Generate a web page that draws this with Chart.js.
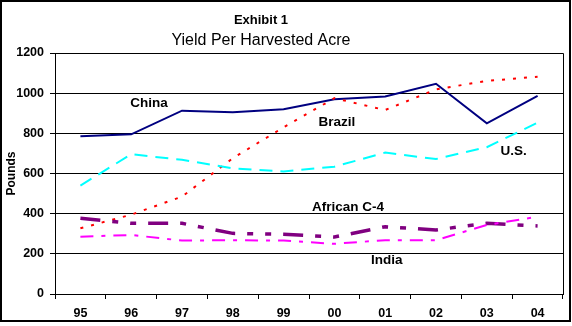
<!DOCTYPE html>
<html>
<head>
<meta charset="utf-8">
<title>Yield Per Harvested Acre</title>
<script src="https://cdn.jsdelivr.net/npm/chart.js@4/dist/chart.umd.min.js"></script>
<style>
  html, body { margin: 0; padding: 0; background: #fff; }
  #wrap { position: relative; width: 572px; height: 326px; }
</style>
</head>
<body>
<div id="wrap"><canvas id="c" width="572" height="326"></canvas></div>
<script>
// Crop years (categories)
const years = ['95', '96', '97', '98', '99', '00', '01', '02', '03', '04'];

// Yield per harvested acre, pounds
const china     = [785, 795, 913, 905, 920, 970, 983, 1047, 850, 987];
const brazil    = [327, 395, 485, 676, 830, 975, 916, 1019, 1061, 1082];
const us        = [540, 696, 668, 626, 610, 634, 704, 672, 731, 853];
const africanC4 = [377, 352, 352, 302, 297, 284, 335, 319, 352, 339];
const india     = [285, 294, 266, 268, 266, 250, 268, 268, 344, 385];

// Value axis
const yMin = 0, yMax = 1200, yStep = 200;

const FONT = '"Liberation Sans", Arial, Helvetica, sans-serif';

// Series name tags placed in data space (category index, pounds)
const seriesTags = [
  { text: 'China',       at: [1.35, 951] },
  { text: 'Brazil',      at: [5.05, 857] },
  { text: 'U.S.',        at: [8.53, 712] },
  { text: 'African C-4', at: [5.27, 433] },
  { text: 'India',       at: [6.03, 169] }
];

const framePlugin = {
  id: 'frame',
  beforeDraw(chart) {
    const ctx = chart.ctx;
    ctx.save();
    ctx.fillStyle = '#fff';
    ctx.fillRect(0, 0, chart.width, chart.height);
    ctx.restore();
  },
  afterDraw(chart) {
    const ctx = chart.ctx;
    const a = chart.chartArea;
    ctx.save();
    // outer border
    ctx.strokeStyle = '#000';
    ctx.lineWidth = 2;
    ctx.strokeRect(1, 1, 569, 320);
    // plot frame (top + right)
    ctx.lineWidth = 1;
    ctx.beginPath();
    ctx.moveTo(a.left, a.top + 0.5);
    ctx.lineTo(a.right + 0.5, a.top + 0.5);
    ctx.lineTo(a.right + 0.5, a.bottom);
    ctx.stroke();

    // titles
    ctx.fillStyle = '#000';
    ctx.textAlign = 'center';
    ctx.textBaseline = 'alphabetic';
    ctx.font = 'bold 13px ' + FONT;
    ctx.fillText('Exhibit 1', 261, 24);
    ctx.font = '16px ' + FONT;
    ctx.fillText('Yield Per Harvested Acre', 261, 45);

    // series tags
    const xs = chart.scales.x, ys = chart.scales.y;
    ctx.font = 'bold 13.5px ' + FONT;
    ctx.textBaseline = 'middle';
    seriesTags.forEach(t => {
      ctx.fillText(t.text, xs.getPixelForValue(t.at[0]), ys.getPixelForValue(t.at[1]));
    });
    ctx.restore();
  }
};

const line = (label, data, color, width, dash) => ({
  label, data,
  borderColor: color,
  backgroundColor: color,
  borderWidth: width,
  borderDash: dash,
  borderCapStyle: 'butt',
  pointRadius: 0,
  tension: 0,
  fill: false
});

new Chart(document.getElementById('c'), {
  type: 'line',
  data: {
    labels: years,
    datasets: [
      line('India', india, '#FF00FF', 2, [13, 8, 4, 8]),
      line('African C-4', africanC4, '#800080', 3.5, [20, 12, 6, 12, 6, 12]),
      line('U.S.', us, '#00FFFF', 2, [13, 8]),
      line('Brazil', brazil, '#FF0000', 2, [3, 8]),
      line('China', china, '#000080', 2, [])
    ]
  },
  options: {
    responsive: false,
    animation: false,
    devicePixelRatio: 1,
    layout: { padding: { top: 53, right: 9, bottom: 0, left: 0 } },
    plugins: {
      legend: { display: false },
      title: { display: false },
      tooltip: { enabled: false }
    },
    scales: {
      x: {
        type: 'category',
        offset: true,
        grid: {
          offset: true,
          drawOnChartArea: false,
          drawTicks: true,
          tickLength: 5,
          color: '#000',
          lineWidth: 1
        },
        border: { color: '#000', width: 1 },
        ticks: {
          color: '#000',
          padding: 7,
          maxRotation: 0,
          font: { family: FONT, size: 12.5, weight: 'bold' }
        },
        afterFit(scale) { scale.height = 32; }
      },
      y: {
        min: yMin,
        max: yMax,
        grid: {
          color: '#000',
          lineWidth: 1,
          drawTicks: true,
          tickLength: 5
        },
        border: { color: '#000', width: 1 },
        ticks: {
          stepSize: yStep,
          color: '#000',
          padding: 6,
          font: { family: FONT, size: 12.5, weight: 'bold' },
          callback: v => String(v)
        },
        title: {
          display: true,
          text: 'Pounds',
          color: '#000',
          padding: { top: 4, bottom: 0 },
          font: { family: FONT, size: 12, weight: 'bold' }
        },
        afterFit(scale) { scale.width = 55; }
      }
    }
  },
  plugins: [framePlugin]
});
</script>
</body>
</html>
